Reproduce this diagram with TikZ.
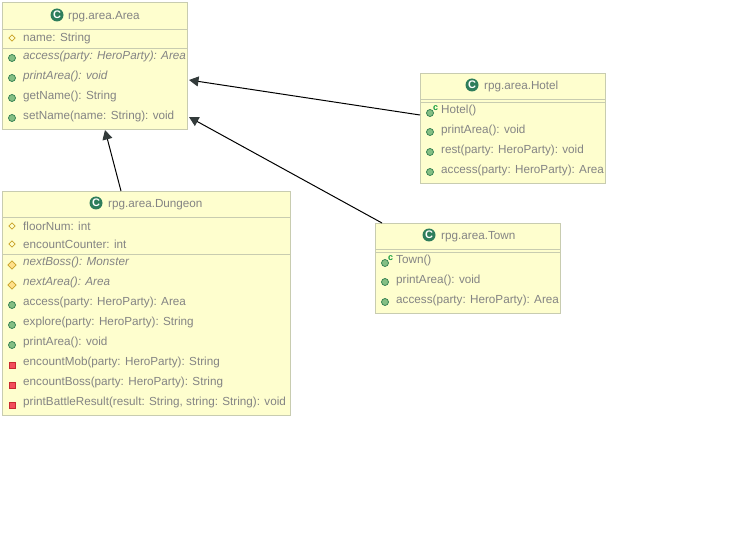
\documentclass[tikz,border=0pt]{standalone}
\usepackage{fontspec}
\setmainfont{Liberation Sans}
\usetikzlibrary{arrows.meta,calc,shapes.geometric}
\definecolor{boxfill}{HTML}{FEFECE}
\definecolor{boxline}{HTML}{C8CCB0}
\definecolor{txt}{HTML}{848484}
\definecolor{pubfill}{HTML}{84BE84}
\definecolor{publine}{HTML}{2E7D4F}
\definecolor{iconC}{HTML}{2E7D5B}
\definecolor{protfill}{HTML}{FFE08A}
\definecolor{protline}{HTML}{C9A227}
\definecolor{privfill}{HTML}{F24D5C}
\definecolor{privline}{HTML}{C82930}
\definecolor{tip}{HTML}{333B3B}
\definecolor{ctorc}{HTML}{0E9A3A}
\tikzset{
  classbox/.style={draw=boxline,fill=boxfill,line width=0.8pt,inner sep=0pt,outer sep=0pt,anchor=north west},
  sepline/.style={draw=boxline,line width=0.8pt},
  titletxt/.style={text=txt,font=\fontsize{11.7}{13}\selectfont,anchor=west,inner sep=0pt,yshift=-0.8pt},
  rowtxt/.style={text=txt,font=\fontsize{11.7}{13}\selectfont,anchor=west,inner sep=0pt,yshift=-0.6pt},
  itxt/.style={rowtxt,font=\fontsize{11.7}{13}\selectfont\itshape},
  pubdot/.style={circle,draw=publine,fill=pubfill,line width=0.7pt,minimum size=7pt,inner sep=0pt},
  protdia/.style={diamond,draw=protline,fill=none,line width=0.6pt,minimum size=6.5pt,inner sep=0pt},
  protdiaf/.style={diamond,draw=protline,fill=protfill,line width=0.6pt,minimum size=8.5pt,inner sep=0pt},
  privsq/.style={rectangle,draw=privline,fill=privfill,line width=0.7pt,minimum size=6pt,inner sep=0pt},
  classicon/.style={circle,fill=iconC,minimum size=13pt,inner sep=0pt,text=white,font=\fontsize{11}{11}\selectfont\bfseries},
  ctormark/.style={text=ctorc,font=\fontsize{9}{9}\selectfont\bfseries,inner sep=0pt},
  inherit/.style={draw=black,line width=1pt,-{Triangle[length=9.5pt,width=10pt,color=tip]}},
}
\begin{document}
\begin{tikzpicture}[x=1pt,y=-1pt]
\useasboundingbox (0,0) rectangle (748,559);
\fill[white] (0,0) rectangle (748,559);
% Class boxes
\node[classbox,minimum width=185pt,minimum height=127pt] (area) at (2,2) {};
\node[classbox,minimum width=185pt,minimum height=110pt] (hotel) at (420,73) {};
\node[classbox,minimum width=288pt,minimum height=224pt] (dungeon) at (2,191) {};
\node[classbox,minimum width=185pt,minimum height=90pt] (town) at (375,223) {};
% Area
\draw[sepline] (2,29) -- (187,29) (2,48) -- (187,48);
\node[classicon] (areaI) at (57,15) {C};
\node[titletxt] (areaT) at (68,16) {rpg.area.Area};
\node[protdia] (a1i) at (12,38) {}; \node[rowtxt] (a1) at (23,38) {name: String};
\node[pubdot] (a2i) at (12,58) {}; \node[itxt] (a2) at (23,56) {access(party: HeroParty): Area};
\node[pubdot] (a3i) at (12,78) {}; \node[itxt] (a3) at (23,76) {printArea(): void};
\node[pubdot] (a4i) at (12,98) {}; \node[rowtxt] (a4) at (23,96) {getName(): String};
\node[pubdot] (a5i) at (12,118) {}; \node[rowtxt] (a5) at (23,116) {setName(name: String): void};
% Hotel
\draw[sepline] (420,99) -- (605,99) (420,102) -- (605,102);
\node[classicon] (hotelI) at (472,85) {C};
\node[titletxt] (hotelT) at (484,86) {rpg.area.Hotel};
\node[pubdot] (h1i) at (430,113) {}; \node[ctormark] (h1c) at (435.5,108) {c}; \node[rowtxt] (h1) at (441,110) {Hotel()};
\node[pubdot] (h2i) at (430,132) {}; \node[rowtxt] (h2) at (441,130) {printArea(): void};
\node[pubdot] (h3i) at (430,152) {}; \node[rowtxt] (h3) at (441,150) {rest(party: HeroParty): void};
\node[pubdot] (h4i) at (430,172) {}; \node[rowtxt] (h4) at (441,170) {access(party: HeroParty): Area};
% Dungeon
\draw[sepline] (2,217) -- (290,217) (2,254) -- (290,254);
\node[classicon] (dungI) at (96,203) {C};
\node[titletxt] (dungT) at (108,204) {rpg.area.Dungeon};
\node[protdia] (d1i) at (12,226) {}; \node[rowtxt] (d1) at (23,226) {floorNum: int};
\node[protdia] (d2i) at (12,244) {}; \node[rowtxt] (d2) at (23,244) {encountCounter: int};
\node[protdiaf] (d3i) at (12,265) {}; \node[itxt] (d3) at (23,262) {nextBoss(): Monster};
\node[protdiaf] (d4i) at (12,285) {}; \node[itxt] (d4) at (23,282) {nextArea(): Area};
\node[pubdot] (d5i) at (12,305) {}; \node[rowtxt] (d5) at (23,302) {access(party: HeroParty): Area};
\node[pubdot] (d6i) at (12,325) {}; \node[rowtxt] (d6) at (23,322) {explore(party: HeroParty): String};
\node[pubdot] (d7i) at (12,345) {}; \node[rowtxt] (d7) at (23,342) {printArea(): void};
\node[privsq] (d8i) at (12,365) {}; \node[rowtxt] (d8) at (23,362) {encountMob(party: HeroParty): String};
\node[privsq] (d9i) at (12,385) {}; \node[rowtxt] (d9) at (23,382) {encountBoss(party: HeroParty): String};
\node[privsq] (d10i) at (12,405) {}; \node[rowtxt] (d10) at (23,402) {printBattleResult(result: String, string: String): void};
% Town
\draw[sepline] (375,249) -- (560,249) (375,252) -- (560,252);
\node[classicon] (townI) at (429,235) {C};
\node[titletxt] (townT) at (441,236) {rpg.area.Town};
\node[pubdot] (t1i) at (385,263) {}; \node[ctormark] (t1c) at (390.5,258) {c}; \node[rowtxt] (t1) at (396,260) {Town()};
\node[pubdot] (t2i) at (385,282) {}; \node[rowtxt] (t2) at (396,280) {printArea(): void};
\node[pubdot] (t3i) at (385,302) {}; \node[rowtxt] (t3) at (396,300) {access(party: HeroParty): Area};
% Connectors
\draw[inherit] ([yshift=13pt]hotel.west) -- ([xshift=2pt,yshift=-14.5pt]area.east);
\draw[inherit] ([xshift=-85.5pt]town.north) -- ([xshift=2pt,yshift=-51.5pt]area.east);
\draw[inherit] ([xshift=-25pt]dungeon.north) -- ([xshift=10.5pt,yshift=-1pt]area.south);
\end{tikzpicture}
\end{document}
